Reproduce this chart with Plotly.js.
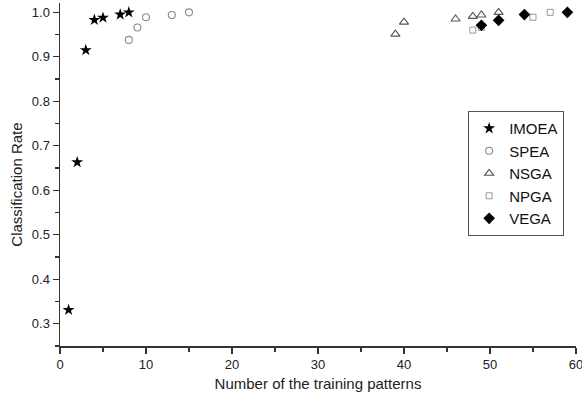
<!DOCTYPE html>
<html>
<head>
<meta charset="utf-8">
<script src="https://cdn.plot.ly/plotly-3.0.1.min.js"></script>
<style>html,body{margin:0;padding:0;background:#fff;}#chart{width:582px;height:403px;}</style>
</head>
<body>
<div id="chart"></div>
<script>
const imoeaX = [1, 2, 3, 4, 5, 7, 8];
const imoeaY = [0.331, 0.663, 0.915, 0.983, 0.988, 0.995, 1.0];
const speaX = [8, 9, 10, 13, 15];
const speaY = [0.938, 0.966, 0.989, 0.994, 1.0];
const nsgaX = [39, 40, 46, 48, 49, 51];
const nsgaY = [0.951, 0.978, 0.985, 0.991, 0.994, 1.0];
const npgaX = [48, 49, 55, 57];
const npgaY = [0.960, 0.966, 0.989, 1.0];
const vegaX = [49, 51, 54, 59];
const vegaY = [0.971, 0.982, 0.995, 1.0];
const seriesNames = ["IMOEA", "SPEA", "NSGA", "NPGA", "VEGA"];

const font = "Liberation Sans, Arial, sans-serif";
const traces = [
  {x: imoeaX, y: imoeaY, name: seriesNames[0], mode: "markers", type: "scatter",
   marker: {symbol: "star", size: 9, color: "#000", line: {width: 0}}},
  {x: speaX, y: speaY, name: seriesNames[1], mode: "markers", type: "scatter",
   marker: {symbol: "circle-open", size: 7, color: "#8a8a8a", line: {width: 1.1, color: "#8a8a8a"}}},
  {x: nsgaX, y: nsgaY, name: seriesNames[2], mode: "markers", type: "scatter",
   marker: {symbol: "triangle-up-open", size: 8, color: "#555", line: {width: 1.1, color: "#555"}}},
  {x: npgaX, y: npgaY, name: seriesNames[3], mode: "markers", type: "scatter",
   marker: {symbol: "square-open", size: 6, color: "#999", line: {width: 1.0, color: "#999"}}},
  {x: vegaX, y: vegaY, name: seriesNames[4], mode: "markers", type: "scatter",
   marker: {symbol: "diamond", size: 9, color: "#000", line: {width: 0}}}
];

const layout = {
  width: 582, height: 403,
  margin: {l: 60, r: 6, t: 3, b: 57},
  paper_bgcolor: "#fff", plot_bgcolor: "#fff",
  font: {family: font, color: "#222", size: 12},
  showlegend: true,
  legend: {x: 0.791, y: 0.685, xanchor: "left", yanchor: "top",
    bordercolor: "#555", borderwidth: 1, bgcolor: "#fff",
    font: {family: font, size: 15, color: "#111"}, tracegroupgap: 0},
  xaxis: {range: [0, 60], dtick: 10, tick0: 0, showgrid: false, zeroline: false,
    showline: true, linecolor: "#333", linewidth: 1.5,
    ticks: "outside", ticklen: 6, tickwidth: 1.2, tickcolor: "#333",
    ticklabeloverflow: "allow",
    minor: {dtick: 5, ticks: "outside", ticklen: 4, tickwidth: 1.2, tickcolor: "#333", showgrid: false},
    tickfont: {size: 13, family: font, color: "#222"},
    title: {text: "Number of the training patterns", font: {size: 15, family: font, color: "#222"}, standoff: 7}},
  yaxis: {range: [0.25, 1.021], dtick: 0.1, tick0: 0, tickformat: ".1f", showgrid: false, zeroline: false,
    showline: true, linecolor: "#333", linewidth: 1.5,
    ticks: "outside", ticklen: 6, tickwidth: 1.2, tickcolor: "#333",
    minor: {dtick: 0.05, ticks: "outside", ticklen: 4, tickwidth: 1.2, tickcolor: "#333", showgrid: false},
    tickfont: {size: 13, family: font, color: "#222"}},
  annotations: [{text: "Classification Rate", textangle: -90, showarrow: false,
    xref: "paper", yref: "paper", x: 0, y: 0.469, xanchor: "center", yanchor: "middle",
    xshift: -43.5, font: {size: 15, family: font, color: "#222"}}]
};

Plotly.newPlot("chart", traces, layout, {displayModeBar: false, staticPlot: true});
</script>
</body>
</html>
